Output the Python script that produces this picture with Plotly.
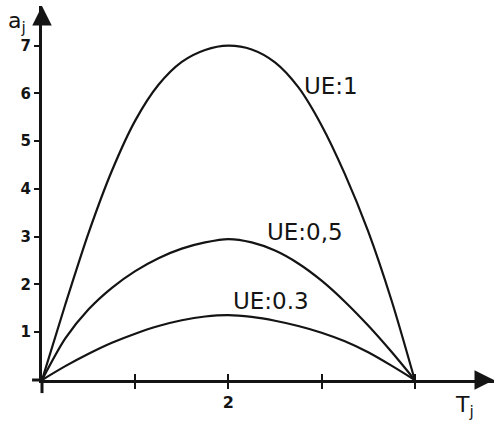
import plotly.graph_objects as go

# T_j sample positions
t_vals = [0, 0.25, 0.5, 0.75, 1.0, 1.25, 1.5, 1.75, 2.0,
          2.25, 2.5, 2.75, 3.0, 3.25, 3.5, 3.75, 4.0]

# a_j for each UE curve
a_ue_1 = [0, 1.58, 3.08, 4.38, 5.43, 6.18, 6.66, 6.91, 7.0,
          6.92, 6.65, 6.13, 5.33, 4.31, 3.11, 1.67, 0]
a_ue_05 = [0, 0.87, 1.48, 1.93, 2.28, 2.55, 2.75, 2.88, 2.95,
           2.88, 2.71, 2.44, 2.08, 1.64, 1.14, 0.59, 0]
a_ue_03 = [0, 0.29, 0.55, 0.78, 0.97, 1.13, 1.25, 1.33, 1.36,
           1.32, 1.24, 1.13, 0.99, 0.81, 0.58, 0.30, 0]

curve_labels = ["UE:1", "UE:0,5", "UE:0.3"]
label_pos = [(3.1, 6.16), (2.82, 3.1), (2.46, 1.65)]

y_ticks = [1, 2, 3, 4, 5, 6, 7]
x_ticks = [1, 2, 3, 4]
x_ticktext = ["", "2", "", ""]

INK = "#141414"
FONT = "DejaVu Sans"
X_MAX = 4.85
Y_MAX = 7.83

fig = go.Figure()
for ys in (a_ue_1, a_ue_05, a_ue_03):
    fig.add_trace(go.Scatter(x=t_vals, y=ys, mode="lines",
                             line=dict(color=INK, width=2.2, shape="spline", smoothing=0.8),
                             showlegend=False, hoverinfo="skip"))

# dummy trace so the overlaying axis gets drawn
fig.add_trace(go.Scatter(x=[0], y=[0], xaxis="x2", mode="markers",
                         marker=dict(opacity=0), showlegend=False, hoverinfo="skip"))

for txt, (tx, ty) in zip(curve_labels, label_pos):
    fig.add_annotation(x=tx, y=ty, text=txt, showarrow=False,
                       font=dict(family=FONT, size=23, color=INK))

# axis arrowheads
fig.add_annotation(x=X_MAX, y=0, ax=-16, ay=0, showarrow=True, arrowhead=2,
                   arrowsize=1.3, arrowwidth=3, arrowcolor=INK, text="")
fig.add_annotation(x=0, y=Y_MAX, ax=0, ay=16, showarrow=True, arrowhead=2,
                   arrowsize=1.3, arrowwidth=3, arrowcolor=INK, text="")

# axis titles
fig.add_annotation(xref="paper", yref="paper", x=-0.055, y=0.955,
                   xanchor="center", yanchor="middle",
                   text="a<sub>j</sub>", showarrow=False,
                   font=dict(family=FONT, size=22, color=INK))
fig.add_annotation(xref="paper", yref="paper", x=0.935, y=-0.07,
                   xanchor="center", yanchor="middle",
                   text="T<sub>j</sub>", showarrow=False,
                   font=dict(family=FONT, size=22, color=INK))

# small stubs of the axes beyond the origin
fig.add_shape(type="line", xref="paper", yref="paper", x0=-0.022, x1=0, y0=0, y1=0,
              line=dict(color=INK, width=3))
fig.add_shape(type="line", xref="paper", yref="paper", x0=0, x1=0, y0=-0.035, y1=0,
              line=dict(color=INK, width=3))

fig.update_layout(
    width=494, height=421,
    margin=dict(l=42, r=0, t=6, b=41, autoexpand=False),
    paper_bgcolor="white", plot_bgcolor="white",
    font=dict(family=FONT, color=INK),
    xaxis=dict(range=[0, X_MAX], showgrid=False, zeroline=False, automargin=False,
               showline=True, linecolor=INK, linewidth=3,
               ticks="outside", ticklen=6, tickwidth=1.5, tickcolor=INK,
               tickvals=x_ticks, ticktext=["<b>%s</b>" % t if t else "" for t in x_ticktext],
               tickfont=dict(size=16, family=FONT, color=INK)),
    xaxis2=dict(range=[0, X_MAX], overlaying="x", side="bottom", showgrid=False,
                automargin=False, zeroline=False, showline=False, ticks="inside", ticklen=6,
                tickwidth=1.5, tickcolor=INK, tickvals=x_ticks, showticklabels=False),
    yaxis=dict(range=[0, Y_MAX], showgrid=False, zeroline=False, automargin=False,
               showline=True, linecolor=INK, linewidth=3,
               ticks="outside", ticklen=5, tickwidth=1.5, tickcolor=INK,
               tickvals=y_ticks, ticktext=["<b>%d</b>" % v for v in y_ticks],
               tickfont=dict(size=15, family=FONT, color=INK)),
)

# the page body has a default 8px margin; drop it so the figure fills the window
fig.write_html("out.html", config={"displayModeBar": False},
               post_script="document.body.style.margin='0';")
